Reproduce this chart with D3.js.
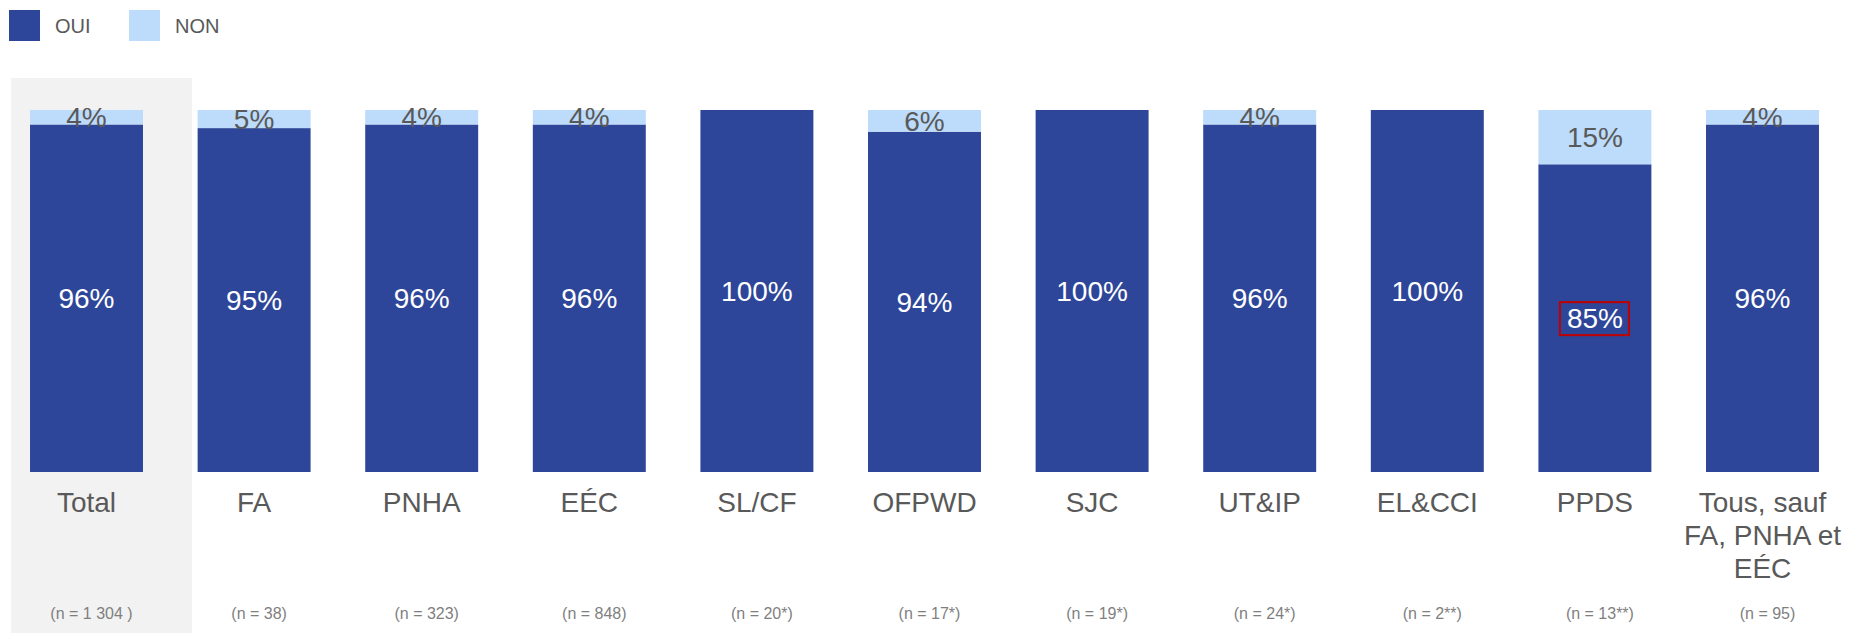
<!DOCTYPE html>
<html>
<head>
<meta charset="utf-8">
<script src="https://cdn.jsdelivr.net/npm/d3@7"></script>
<style>
  html, body { margin: 0; padding: 0; background: #ffffff; }
  svg { display: block; font-family: "Liberation Sans", Arial, sans-serif; }
</style>
</head>
<body>
<svg id="chart" width="1869" height="642"></svg>
<script>
// ---- Data ----
const categories = ["Total", "FA", "PNHA", "EÉC", "SL/CF", "OFPWD", "SJC", "UT&IP", "EL&CCI", "PPDS", "Tous, sauf\nFA, PNHA et\nEÉC"];
const ouiValues = [96, 95, 96, 96, 100, 94, 100, 96, 100, 85, 96];
const nonValues = [4, 5, 4, 4, 0, 6, 0, 4, 0, 15, 4];
const nLabels = ["(n = 1 304 )", "(n = 38)", "(n = 323)", "(n = 848)", "(n = 20*)", "(n = 17*)", "(n = 19*)", "(n = 24*)", "(n = 2**)", "(n = 13**)", "(n = 95)"];
const seriesNames = ["OUI", "NON"];
const highlighted = ["PPDS"]; // OUI label boxed in red

// ---- Layout ----
const W = 1869, H = 642;
const colors = { OUI: "#2E4699", NON: "#BDDBFB" };
const textDark = "#595959";
const svg = d3.select("#chart");

const x = d3.scaleBand()
  .domain(categories)
  .range([2.7, 1846.3])
  .paddingInner(0.326)
  .paddingOuter(0.163);

const y = d3.scaleLinear().domain([0, 100]).range([472, 110]);

// Total background panel
svg.append("rect")
  .attr("x", x("Total") - 19)
  .attr("y", 78)
  .attr("width", x.bandwidth() + 68)
  .attr("height", 555)
  .attr("fill", "#F2F2F2");

const data = categories.map((c, i) => ({ cat: c, OUI: ouiValues[i], NON: nonValues[i], n: nLabels[i] }));
const stack = d3.stack().keys(seriesNames)(data);

const g = svg.append("g");
stack.forEach(layer => {
  g.selectAll(null)
    .data(layer)
    .join("rect")
    .filter(d => d[1] - d[0] > 0)
    .attr("x", d => x(d.data.cat))
    .attr("y", d => y(d[1]))
    .attr("width", x.bandwidth())
    .attr("height", d => y(d[0]) - y(d[1]))
    .attr("fill", colors[layer.key]);
});

// Value labels
const FS = 28;
stack.forEach(layer => {
  layer.forEach(d => {
    const v = d[1] - d[0];
    if (v <= 0) return;
    const cx = x(d.data.cat) + x.bandwidth() / 2;
    const cy = (y(d[0]) + y(d[1])) / 2;
    const t = g.append("text")
      .attr("x", cx)
      .attr("y", cy + 10)
      .attr("text-anchor", "middle")
      .attr("font-size", FS)
      .attr("fill", layer.key === "OUI" ? "#ffffff" : textDark)
      .text(v + "%");
    if (layer.key === "OUI" && highlighted.includes(d.data.cat)) {
      const bb = t.node().getBBox();
      g.append("rect")
        .attr("x", bb.x - 7)
        .attr("y", cy - 16)
        .attr("width", bb.width + 13)
        .attr("height", 33)
        .attr("fill", "none")
        .attr("stroke", "#C00000")
        .attr("stroke-width", 2);
    }
  });
});

// Category labels
categories.forEach(c => {
  const lines = c.split("\n");
  const t = svg.append("text")
    .attr("text-anchor", "middle")
    .attr("font-size", 28)
    .attr("fill", textDark);
  lines.forEach((ln, j) => {
    t.append("tspan")
      .attr("x", x(c) + x.bandwidth() / 2)
      .attr("y", 512 + j * 33)
      .text(ln);
  });
});

// n labels
data.forEach(d => {
  svg.append("text")
    .attr("x", x(d.cat) + x.bandwidth() / 2 + 5)
    .attr("y", 619)
    .attr("text-anchor", "middle")
    .attr("font-size", 16)
    .attr("fill", "#7F7F7F")
    .style("white-space", "pre")
    .attr("xml:space", "preserve")
    .text(d.n);
});

// Legend
const legendX = [9, 129];
seriesNames.forEach((s, i) => {
  svg.append("rect")
    .attr("x", legendX[i]).attr("y", 10)
    .attr("width", 31).attr("height", 31)
    .attr("fill", colors[s]);
  svg.append("text")
    .attr("x", legendX[i] + 46).attr("y", 33)
    .attr("font-size", 20)
    .attr("fill", textDark)
    .text(s);
});
</script>
</body>
</html>
